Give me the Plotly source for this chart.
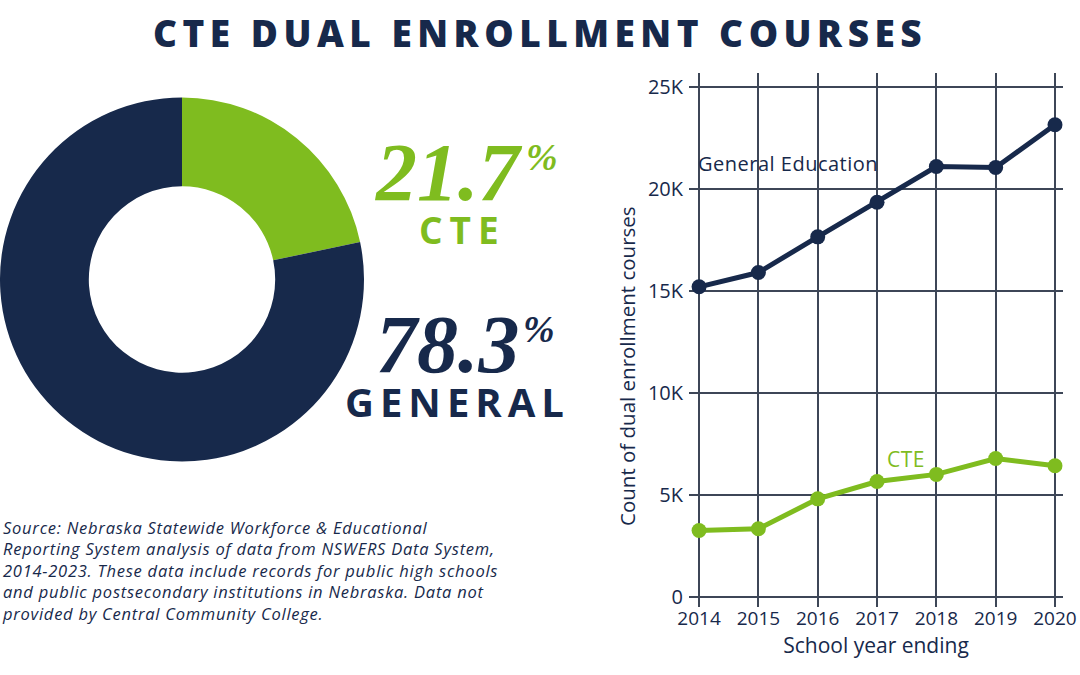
import plotly.graph_objects as go

# ---- data ----
years = [2014, 2015, 2016, 2017, 2018, 2019, 2020]
general_ed = [15200, 15900, 17650, 19350, 21100, 21050, 23150]
cte = [3250, 3330, 4800, 5650, 6000, 6780, 6420]

share_labels = ["CTE", "General"]
share_values = [21.7, 78.3]

y_tickvals = [0, 5000, 10000, 15000, 20000, 25000]
y_ticktext = ["0", "5K", "10K", "15K", "20K", "25K"]

title_text = "CTE DUAL ENROLLMENT COURSES"
y_title = "Count of dual enrollment courses"
x_title = "School year ending"
source_lines = [
    "Source: Nebraska Statewide Workforce &amp; Educational",
    "Reporting System analysis of data from NSWERS Data System,",
    "2014-2023. These data include records for public high schools",
    "and public postsecondary institutions in Nebraska. Data not",
    "provided by Central Community College.",
]

NAVY = "#17294b"
GREEN = "#7fbc1f"
GRID = "#3d4657"
FONT = "Open Sans"

W, H = 1080, 675

def px_x(p):
    return p / W

def px_y(p):
    return 1 - p / H

fig = go.Figure()

# donut
fig.add_trace(go.Pie(
    labels=share_labels, values=share_values,
    hole=0.512, sort=False, direction="clockwise", rotation=0,
    marker=dict(colors=[GREEN, NAVY], line=dict(width=0)),
    textinfo="none", hoverinfo="label+percent",
    domain=dict(x=[0, px_x(364)], y=[px_y(461.5), px_y(97.5)]),
    showlegend=False,
))

# lines
fig.add_trace(go.Scatter(
    x=years, y=general_ed, mode="lines+markers", name="General Education",
    line=dict(color=NAVY, width=5), marker=dict(color=NAVY, size=15),
    showlegend=False,
))
fig.add_trace(go.Scatter(
    x=years, y=cte, mode="lines+markers", name="CTE",
    line=dict(color=GREEN, width=5), marker=dict(color=GREEN, size=15),
    showlegend=False,
))

fig.update_layout(
    width=W, height=H,
    margin=dict(l=0, r=0, t=0, b=0, autoexpand=False),
    paper_bgcolor="white", plot_bgcolor="white",
    font=dict(family=FONT, color=NAVY),
    xaxis=dict(
        domain=[px_x(689), px_x(1063)],
        range=[2013.83, 2020.135],
        tickvals=years, ticktext=[str(y) for y in years],
        showgrid=True, gridcolor=GRID, gridwidth=1.5,
        zeroline=False, showline=False, ticks="", automargin=False,
        tickfont=dict(size=19, color=NAVY, family=FONT),
        ticklabelstandoff=-2,
        title=dict(text=x_title, font=dict(size=21, color=NAVY, family=FONT), standoff=8),
        fixedrange=True,
    ),
    yaxis=dict(
        domain=[px_y(607), px_y(73)],
        range=[-505, 25687],
        tickvals=y_tickvals, ticktext=y_ticktext,
        showgrid=True, gridcolor=GRID, gridwidth=1.5,
        zeroline=False, showline=False, ticks="", automargin=False,
        tickfont=dict(size=20, color=NAVY, family=FONT),
        ticklabelstandoff=5,
        fixedrange=True,
    ),
)

ann = []
# title
ann.append(dict(
    text=f'<span style="letter-spacing:5.5px">{title_text}</span>',
    xref="paper", yref="paper", x=0.5, y=px_y(33), xanchor="center", yanchor="middle",
    showarrow=False, font=dict(size=37, color=NAVY, family=FONT, weight=800),
))
# y-axis title
ann.append(dict(
    text=y_title, textangle=-90,
    xref="paper", yref="paper", x=px_x(627), y=px_y(366), xanchor="center", yanchor="middle",
    showarrow=False, font=dict(size=20.5, color=NAVY, family=FONT),
))
# big percentages (number + superscript percent sign)
ann.append(dict(
    text=f'{share_values[0]}',
    xref="paper", yref="paper", x=px_x(525), y=px_y(172), xanchor="right", yanchor="middle",
    showarrow=False, font=dict(size=82, color=GREEN, family="Liberation Serif", weight="bold", style="italic"),
))
ann.append(dict(
    text='%',
    xref="paper", yref="paper", x=px_x(524), y=px_y(157), xanchor="left", yanchor="middle",
    showarrow=False, font=dict(size=38, color=GREEN, family="Liberation Serif", weight="bold", style="italic"),
))
ann.append(dict(
    text='<span style="letter-spacing:7px">CTE</span>',
    xref="paper", yref="paper", x=px_x(462), y=px_y(229), xanchor="center", yanchor="middle",
    showarrow=False, font=dict(size=37, color=GREEN, family=FONT, weight=700),
))
ann.append(dict(
    text=f'{share_values[1]}',
    xref="paper", yref="paper", x=px_x(522), y=px_y(344), xanchor="right", yanchor="middle",
    showarrow=False, font=dict(size=82, color=NAVY, family="Liberation Serif", weight="bold", style="italic"),
))
ann.append(dict(
    text='%',
    xref="paper", yref="paper", x=px_x(521), y=px_y(329), xanchor="left", yanchor="middle",
    showarrow=False, font=dict(size=38, color=NAVY, family="Liberation Serif", weight="bold", style="italic"),
))
ann.append(dict(
    text='<span style="letter-spacing:6px">GENERAL</span>',
    xref="paper", yref="paper", x=px_x(457), y=px_y(401), xanchor="center", yanchor="middle",
    showarrow=False, font=dict(size=40, color=NAVY, family=FONT, weight=700),
))
# source
ann.append(dict(
    text="<br>".join(f'<span style="letter-spacing:0.75px">{ln}</span>' for ln in source_lines),
    xref="paper", yref="paper", x=0, y=px_y(514),
    xanchor="left", yanchor="top", align="left", showarrow=False,
    font=dict(size=16.5, color=NAVY, family=FONT, style="italic"),
))
# series labels
ann.append(dict(
    text='<span style="letter-spacing:0.5px">General Education</span>', xref="x", yref="y", x=2014, y=21270,
    xanchor="left", yanchor="middle", showarrow=False, xshift=-3,
    font=dict(size=20, color=NAVY, family=FONT),
))
ann.append(dict(
    text='<span style="letter-spacing:0.5px">CTE</span>', xref="x", yref="y", x=2017.48, y=6750,
    xanchor="center", yanchor="middle", showarrow=False,
    font=dict(size=21, color=GREEN, family=FONT),
))
fig.update_layout(annotations=ann)

fig.write_html("out.html", config={"displayModeBar": False},
               post_script="document.body.style.margin='0';document.body.style.padding='0';")
